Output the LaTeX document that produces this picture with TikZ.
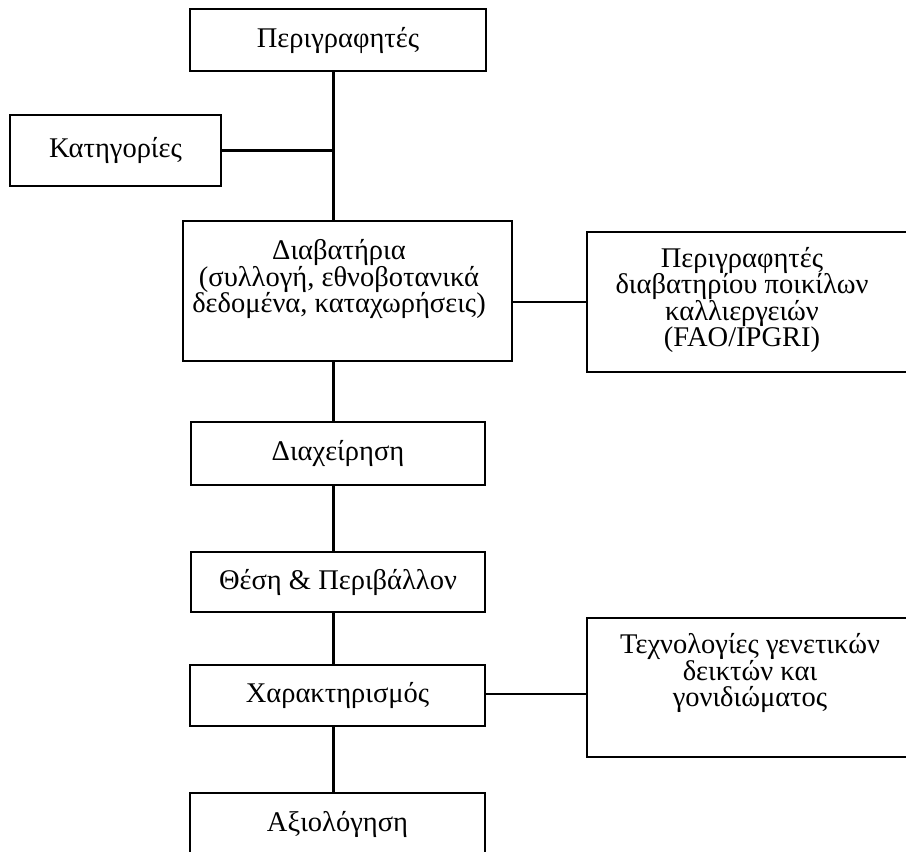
\documentclass[tikz,border=0pt]{standalone}
\usepackage{fontspec}
\setmainfont{Liberation Serif}
\begin{document}
\begin{tikzpicture}[x=1pt,y=-1pt,
  box/.style={draw, line width=1.2pt, inner sep=0pt},
  conn/.style={line width=2.4pt},
  txt/.style={font=\fontsize{28.5}{26.5}\selectfont, align=center, inner sep=0pt}]
\useasboundingbox (0,0) rectangle (906,852);
\clip (0,0) rectangle (906,852);
\coordinate (spine) at (333.5,0);
% boxes
\node[box, txt, minimum width=296pt, minimum height=62pt] (p) at (338,40) {Περιγραφητές};
\node[box, txt, minimum width=211pt, minimum height=71pt] (k) at (115.5,150.5) {Κατηγορίες};
\node[box, minimum width=329pt, minimum height=140pt] (d) at (347.5,291) {};
\node[txt] (dt) at (339,279) {Διαβατήρια\\(συλλογή, εθνοβοτανικά\\δεδομένα, καταχωρήσεις)};
\node[box, minimum width=333pt, minimum height=140pt] (r1) at (753.5,302) {};
\node[txt] (r1t) at (742,300) {Περιγραφητές\\διαβατηρίου ποικίλων\\καλλιεργειών\\(FAO/IPGRI)};
\node[box, txt, minimum width=294pt, minimum height=63pt] (m) at (338,453.5) {Διαχείρηση};
\node[box, txt, minimum width=294pt, minimum height=60pt] (th) at (338,582) {Θέση \& Περιβάλλον};
\node[box, txt, minimum width=295pt, minimum height=61pt] (ch) at (337.5,695.5) {Χαρακτηρισμός};
\node[box, minimum width=333pt, minimum height=139pt] (r2) at (753.5,687.5) {};
\node[txt] (r2t) at (750,673) {Τεχνολογίες γενετικών\\δεικτών και\\γονιδιώματος};
\node[box, txt, minimum width=295pt, minimum height=62pt] (a) at (337.5,824) {Αξιολόγηση};
% connectors
\draw[conn] (p.south -| spine) -- (d.north -| spine);
\draw[conn] (k.east) -- (k.east -| spine);
\draw[conn] (d.south -| spine) -- (m.north -| spine);
\draw[conn] (m.south -| spine) -- (th.north -| spine);
\draw[conn] (th.south -| spine) -- (ch.north -| spine);
\draw[conn] (ch.south -| spine) -- (a.north -| spine);
\draw[conn] (d.east |- r1.west) -- (r1.west);
\draw[conn] (ch.east |- 0,694) -- (r2.west |- 0,694);
\end{tikzpicture}
\end{document}
